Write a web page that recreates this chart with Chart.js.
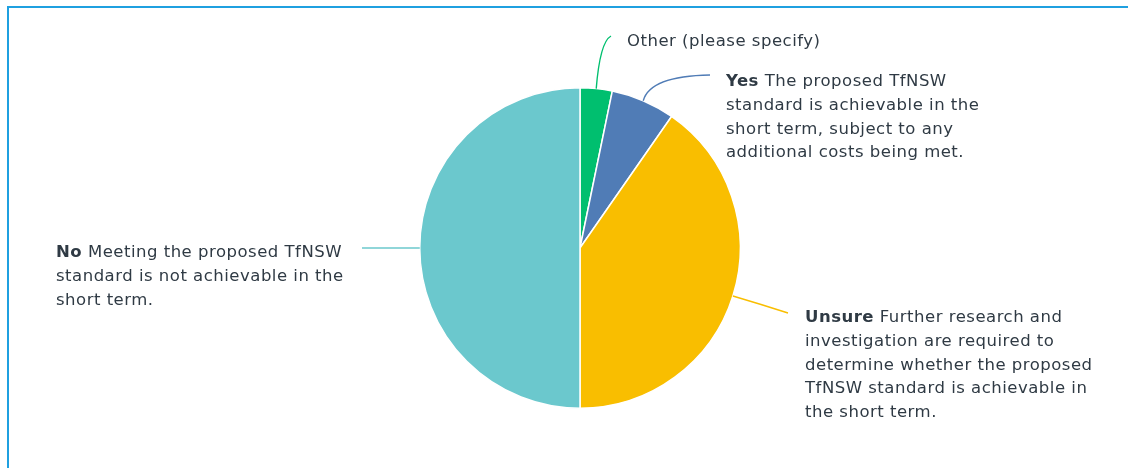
<!DOCTYPE html>
<html>
<head>
<meta charset="utf-8">
<script src="https://cdn.jsdelivr.net/npm/chart.js@4"></script>
<style>
  html, body { margin: 0; padding: 0; background: #fff; }
  #wrap { position: relative; width: 1128px; height: 468px; overflow: hidden; }
  #frame { position: absolute; left: 7px; top: 6px; right: -10px; bottom: -10px;
           border-top: 2px solid #1fa0e0; border-left: 2px solid #1fa0e0; }
  canvas { position: absolute; left: 0; top: 0; }
</style>
</head>
<body>
<div id="wrap">
  <div id="frame"></div>
  <canvas id="pie" width="1128" height="468"></canvas>
</div>
<script>
/////////////////////////////// data //////////////////////////////////

const categories = ['Other', 'Yes', 'Unsure', 'No'];
const values = [3.23, 6.45, 40.32, 50.0];
const colors = ['#00bf6f', '#507cb6', '#f9be00', '#6bc8cd'];

// label text: bold lead word + wrapped lines as shown
const labelLines = [
    [['', 'Other (please specify)']],
    [['Yes', ' The proposed TfNSW'], ['', 'standard is achievable in the'], ['', 'short term, subject to any'], ['', 'additional costs being met.']],
    [['Unsure', ' Further research and'], ['', 'investigation are required to'], ['', 'determine whether the proposed'], ['', 'TfNSW standard is achievable in'], ['', 'the short term.']],
    [['No', ' Meeting the proposed TfNSW'], ['', 'standard is not achievable in the'], ['', 'short term.']]
];

// label placement: text x/y, leader end, leader bend
const labelPos = [
    { x: 627, y: 42, end: [611, 36], ctrl: [600, 42] },
    { x: 726, y: 82, end: [710, 75], ctrl: [650, 76] },
    { x: 805, y: 318, end: [788, 313], ctrl: [760, 304] },
    { x: 56, y: 253, end: [362, 248], ctrl: [390, 248] }
];

/////////////////////////////// labels plugin //////////////////////////////////

const FONT = '"DejaVu Sans", sans-serif';
const FSIZE = 16.5;
const LINE_H = 23.7;

const leaderLabels = {
    id: 'leaderLabels',
    afterDatasetsDraw(chart) {
        const ctx = chart.ctx;
        const arcs = chart.getDatasetMeta(0).data;
        arcs.forEach((arc, i) => {
            const p = arc.getProps(['x', 'y', 'startAngle', 'endAngle', 'outerRadius'], true);
            const mid = (p.startAngle + p.endAngle) / 2;
            const sx = p.x + Math.cos(mid) * p.outerRadius;
            const sy = p.y + Math.sin(mid) * p.outerRadius;
            const pos = labelPos[i];

            ctx.save();
            ctx.strokeStyle = colors[i];
            ctx.lineWidth = 1.4;
            ctx.beginPath();
            ctx.moveTo(sx, sy);
            ctx.quadraticCurveTo(pos.ctrl[0], pos.ctrl[1], pos.end[0], pos.end[1]);
            ctx.stroke();

            ctx.fillStyle = '#2f3a44';
            ctx.textBaseline = 'middle';
            ctx.letterSpacing = '0.5px';
            labelLines[i].forEach((ln, j) => {
                const y = pos.y + j * LINE_H;
                let x = pos.x;
                if (ln[0]) {
                    ctx.font = 'bold ' + FSIZE + 'px ' + FONT;
                    ctx.fillText(ln[0], x, y);
                    x += ctx.measureText(ln[0]).width;
                }
                ctx.font = FSIZE + 'px ' + FONT;
                ctx.fillText(ln[1], x, y);
            });
            ctx.restore();
        });
    }
};

/////////////////////////////// PieChart //////////////////////////////////

var ctx = document.getElementById('pie').getContext('2d');

new Chart(ctx, {
    type: 'pie',
    data: {
        labels: categories,
        datasets: [{
            data: values,
            backgroundColor: colors,
            borderColor: '#ffffff',
            borderWidth: 1.5
        }]
    },
    options: {
        responsive: false,
        animation: false,
        layout: {
            padding: { left: 419, right: 387, top: 87, bottom: 59 }
        },
        plugins: {
            legend: { display: false },
            tooltip: { enabled: false }
        }
    },
    plugins: [leaderLabels]
});
</script>
</body>
</html>
